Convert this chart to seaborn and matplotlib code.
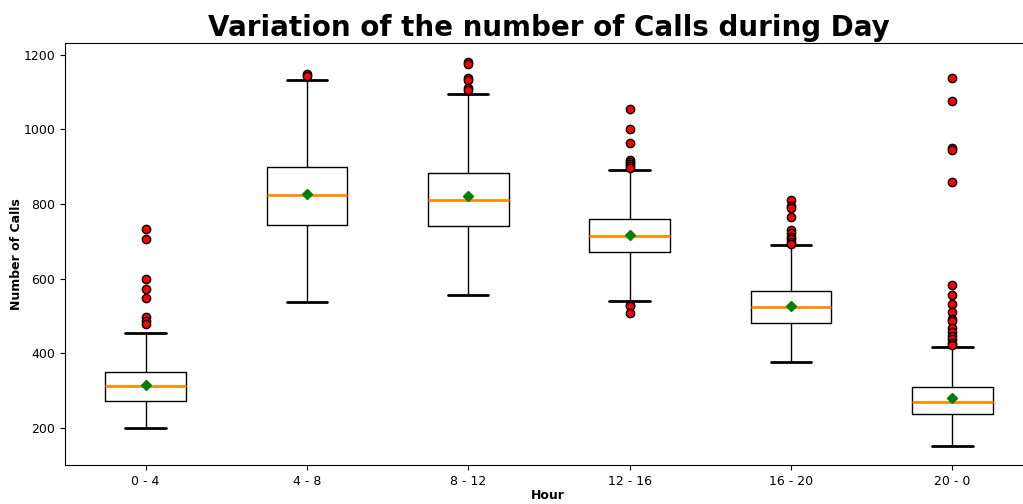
import matplotlib
matplotlib.use("Agg")
import matplotlib.pyplot as plt
import seaborn as sns

hours = ["0 - 4", "4 - 8", "8 - 12", "12 - 16", "16 - 20", "20 - 0"]
whisker_low = [198, 536, 556, 540, 375, 150]
q1 = [272, 745, 741, 670, 482, 238]
median = [313, 825, 811, 714, 524, 268]
q3 = [349, 900, 884, 759, 566, 308]
whisker_high = [454, 1132, 1096, 892, 690, 416]
mean = [314, 826, 821, 716, 526, 279]
outliers = [
    [733, 706, 599, 573, 548, 497, 486, 479],
    [1148, 1143],
    [1180, 1176, 1138, 1133, 1111, 1106],
    [1055, 1000, 963, 918, 913, 908, 902, 896, 530, 526, 507],
    [811, 795, 790, 764, 730, 722, 712, 705, 698, 694],
    [1137, 1076, 950, 946, 860, 584, 557, 532, 510, 492, 487, 467,
     458, 446, 437, 428, 422],
]

sns.set_style("ticks", {"axes.edgecolor": "black", "xtick.color": "black",
                        "ytick.color": "black", "text.color": "black",
                        "axes.labelcolor": "black"})

stats = []
for i, h in enumerate(hours):
    stats.append(dict(label=h, whislo=whisker_low[i], q1=q1[i], med=median[i],
                      q3=q3[i], whishi=whisker_high[i], mean=mean[i],
                      fliers=outliers[i]))

fig = plt.figure(figsize=(10.23, 5.04), dpi=100)
ax = fig.add_axes([0.0635, 0.0774, 0.9463, 0.8373])

ax.bxp(stats, positions=range(len(hours)), widths=0.5, showmeans=True,
       boxprops=dict(color="black", linewidth=1),
       whiskerprops=dict(color="black", linewidth=1),
       capprops=dict(color="black", linewidth=2),
       medianprops=dict(color="darkorange", linewidth=2),
       meanprops=dict(marker="D", markerfacecolor="green",
                      markeredgecolor="green", markersize=5.5),
       flierprops=dict(marker="o", markerfacecolor="red",
                       markeredgecolor="black", markersize=6))

ax.set_xlim(-0.5, 5.5)
ax.set_ylim(100, 1232)
ax.set_yticks([200, 400, 600, 800, 1000, 1200])
ax.tick_params(labelsize=9, colors="black")
ax.set_xlabel("Hour", fontsize=9, fontweight="bold", color="black")
ax.set_ylabel("Number of Calls", fontsize=9, fontweight="bold", color="black")
ax.xaxis.set_label_coords(0.499, -0.058)
ax.yaxis.set_label_coords(-0.043, 0.5)
fig.text(0.537, 0.945, "Variation of the number of Calls during Day",
         ha="center", va="center", fontsize=20, fontweight="bold",
         color="black")

fig.savefig("out.png", dpi=100)
